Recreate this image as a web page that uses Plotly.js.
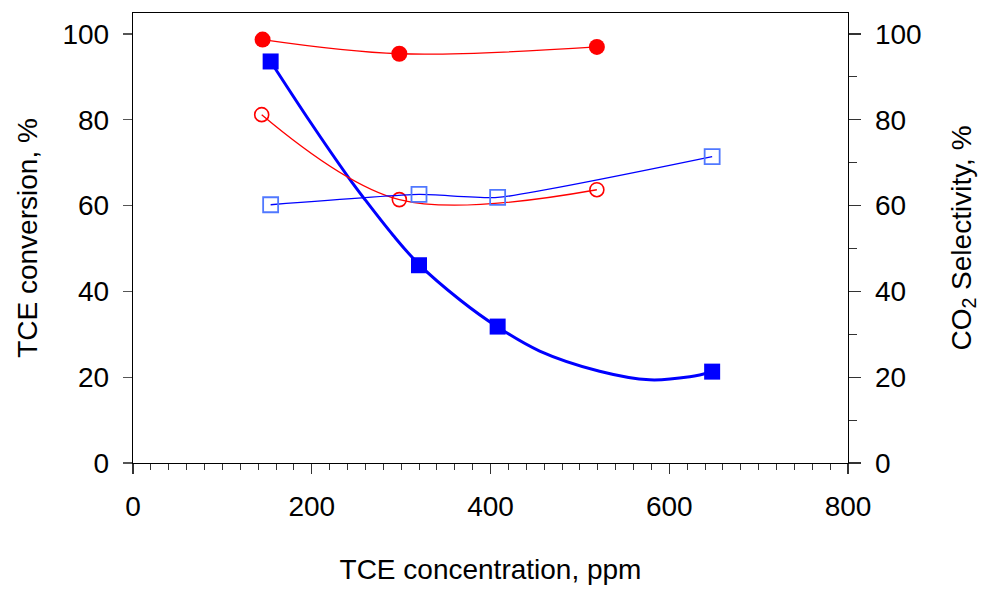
<!DOCTYPE html>
<html>
<head>
<meta charset="utf-8">
<script src="https://cdn.plot.ly/plotly-3.0.1.min.js"></script>
<style>html,body{margin:0;padding:0;background:#fff;}</style>
</head>
<body>
<div id="chart" style="width:983px;height:589px;"></div>
<script>
// Data
const convCircleX = [145, 298, 519];
const convCircleY = [98.7, 95.4, 97.0];
const selCircleX = [144, 298, 519];
const selCircleY = [81.2, 61.4, 63.7];
const convSquareX = [154, 320, 408, 648];
const convSquareY = [93.6, 46.1, 31.8, 21.3];
const selSquareX = [154, 320, 408, 648];
const selSquareY = [60.2, 62.6, 61.9, 71.4];
// Fitted trend curve through the filled squares
const fitX = [154, 198, 240, 260, 291, 320, 366, 408, 455, 522, 578, 623, 648];
const fitY = [93.6, 79.6, 66.9, 61.3, 53.1, 46.3, 38.0, 31.7, 26.1, 21.4, 19.4, 20.1, 21.2];

const xTickVals = [0, 200, 400, 600, 800];
const yTickVals = [0, 20, 40, 60, 80, 100];

const font = {family: 'Liberation Sans, Arial, sans-serif', size: 28, color: '#000'};

const traces = [
  {x: convCircleX, y: convCircleY, mode: 'lines+markers', yaxis: 'y',
   line: {color: '#ff0000', width: 1.3, shape: 'spline'},
   marker: {symbol: 'circle', size: 16, color: '#ff0000'}},
  {x: selCircleX, y: selCircleY, mode: 'lines+markers', yaxis: 'y2',
   line: {color: '#ff0000', width: 1.3, shape: 'spline'},
   marker: {symbol: 'circle-open', size: 14, color: '#ff0000', line: {width: 1.6, color: '#ff0000'}}},
  {x: selSquareX, y: selSquareY, mode: 'lines+markers', yaxis: 'y2',
   line: {color: '#0000ff', width: 1.3, shape: 'spline', smoothing: 0.5},
   marker: {symbol: 'square-open', size: 15, color: '#5078ff', line: {width: 1.8, color: '#5078ff'}}},
  {x: fitX, y: fitY, mode: 'lines', yaxis: 'y',
   line: {color: '#0000ff', width: 3, shape: 'spline', smoothing: 1}},
  {x: convSquareX, y: convSquareY, mode: 'markers', yaxis: 'y',
   marker: {symbol: 'square', size: 16, color: '#0000ff'}}
];

const layout = {
  width: 983, height: 589,
  margin: {l: 133, r: 135, t: 13, b: 126},
  paper_bgcolor: '#fff', plot_bgcolor: '#fff',
  showlegend: false,
  font: font,
  xaxis: {
    range: [0, 800], tickvals: xTickVals, ticktext: xTickVals.map(String),
    showline: true, linecolor: '#000', linewidth: 1.3, mirror: true,
    ticks: 'outside', ticklen: 10, tickcolor: '#333', tickwidth: 1.3,
    minor: {dtick: 20, ticks: 'outside', ticklen: 6, tickcolor: '#333', tickwidth: 1, showgrid: false},
    showgrid: false, zeroline: false,
    tickfont: font, ticklabelstandoff: 8,
    title: {text: 'TCE concentration, ppm', font: font, standoff: 38}
  },
  yaxis: {
    range: [0, 104.9], tickvals: yTickVals,
    showline: true, linecolor: '#000', linewidth: 1.3,
    ticks: 'outside', ticklen: 9, tickcolor: '#555', tickwidth: 1.3,
    showgrid: false, zeroline: false,
    tickfont: font, ticklabelstandoff: 8,
    title: {text: 'TCE conversion, %', font: font, standoff: 16}
  },
  yaxis2: {
    range: [0, 104.9], tickvals: yTickVals, overlaying: 'y', side: 'right',
    showline: true, linecolor: '#000', linewidth: 1.3,
    ticks: 'outside', ticklen: 12, tickcolor: '#333', tickwidth: 1.3,
    minor: {dtick: 10, ticks: 'outside', ticklen: 8, tickcolor: '#333', tickwidth: 1, showgrid: false},
    showgrid: false, zeroline: false,
    tickfont: font, ticklabelstandoff: 8,
    title: {text: 'CO<sub>2</sub> Selectivity, %', font: font, standoff: 30}
  }
};

Plotly.newPlot('chart', traces, layout, {displayModeBar: false, staticPlot: true});
</script>
</body>
</html>
